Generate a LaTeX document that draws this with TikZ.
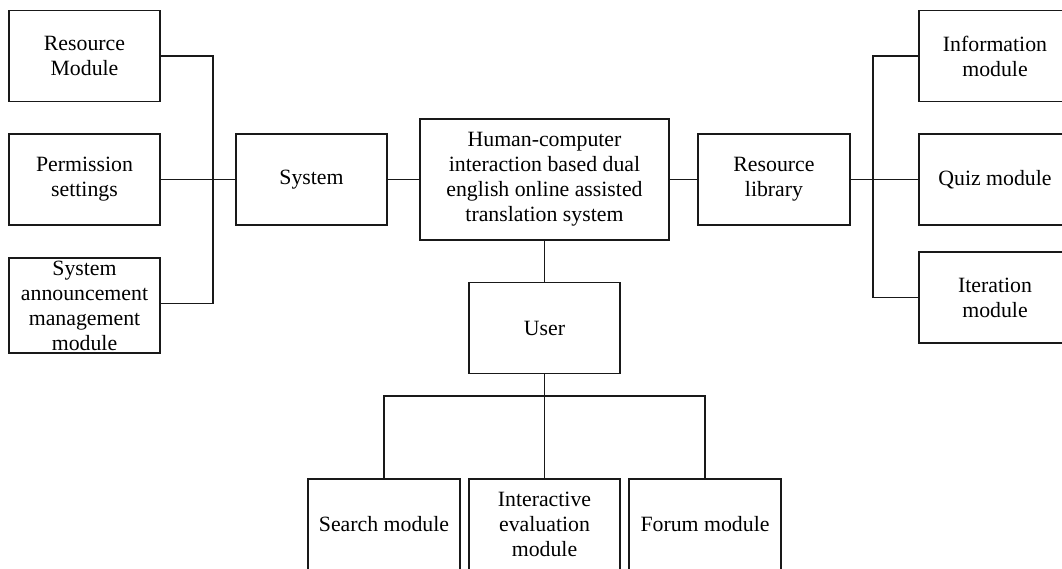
\documentclass[tikz,border=0pt]{standalone}
\usepackage{fontspec}
\setmainfont{Liberation Serif}
\begin{document}
\begin{tikzpicture}[x=1pt,y=-1pt,
  box/.style={draw=black!90, line width=1.1pt, align=center, inner sep=0pt,
    font=\fontsize{21.8}{25}\selectfont, minimum width=151pt, minimum height=91pt},
  link/.style={draw=black!90, line width=1.2pt}]
\useasboundingbox (0,0) rectangle (1062,569);
\clip (0,0) rectangle (1062,569);

% left column
\node[box] (rm)  at (84.5,56)    {Resource\\Module};
\node[box] (ps)  at (84.5,179.5) {Permission\\settings};
\node[box, minimum height=95pt] (sam) at (84.5,305.5) {System\\announcement\\management\\module};

% middle row
\node[box] (sys)  at (311.5,179.5) {System};
\node[box, minimum width=249pt, minimum height=121pt] (main) at (544.5,179.5)
  {Human-computer\\interaction based dual\\english online assisted\\translation system};
\node[box, minimum width=152pt] (rl) at (774,179.5) {Resource\\library};

% right column
\node[box, minimum width=152pt] (im) at (995,56)    {Information\\module};
\node[box, minimum width=152pt] (qm) at (995,179.5) {Quiz module};
\node[box, minimum width=152pt] (it) at (995,297.5) {Iteration\\module};

% user branch
\node[box] (user) at (544.5,328) {User};
\node[box, minimum width=152pt] (sm) at (384,524.5) {Search module};
\node[box] (ie) at (544.5,524.5) {Interactive\\evaluation\\module};
\node[box, minimum width=152pt] (fm) at (705,524.5) {Forum module};

% junction points
\coordinate (lj) at (213,179.5);
\coordinate (rj) at (873,179.5);
\coordinate (bj) at (544.5,396);

% connectors
\draw[link] (rm.east) -| (lj) |- ([yshift=2pt]sam.east);
\draw[link] (ps.east) -- (sys.west);
\draw[link] (sys.east) -- (main.west);
\draw[link] (main.east) -- (rl.west);
\draw[link] (im.west) -| (rj) |- (it.west);
\draw[link] (rl.east) -- (qm.west);
\draw[link] (main.south) -- (user.north);
\draw[link] (user.south) -- (bj);
\draw[link] (sm.north) |- (bj) -| (fm.north);
\draw[link] (bj) -- (ie.north);
\end{tikzpicture}
\end{document}
